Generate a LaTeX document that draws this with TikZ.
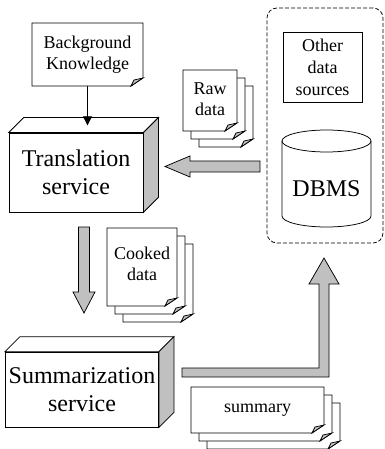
\documentclass[tikz,border=0pt]{standalone}
\usepackage{fontspec}
\setmainfont{Liberation Serif}
\usetikzlibrary{arrows.meta}
\definecolor{silver}{RGB}{192,192,192}

\begin{document}
\begin{tikzpicture}[x=1pt,y=-1pt,line width=0.75pt,
    big/.style={font=\fontsize{24}{28}\selectfont, align=center},
    small/.style={font=\fontsize{18}{21}\selectfont, align=center},
    fatarrow/.style={fill=silver, draw=black}]
    \newcommand{\docpage}[4]{\filldraw[fill=white] (#1,#2) -- (#3,#2) -- (#3,#4-8) -- (#3-12,#4) -- (#1,#4) -- cycle;
    \filldraw[fill=silver] (#3,#4-8) -- (#3-12,#4) -- (#3-9,#4-6) -- cycle;}
    \newcommand{\solidbox}[1]{\filldraw[fill=white] (#1.north west) -- ++(15,-15) -- ([shift={(15,-15)}]#1.north east) -- (#1.north east) -- cycle;
    \filldraw[fill=silver] (#1.north east) -- ++(15,-15) -- ([shift={(15,-15)}]#1.south east) -- (#1.south east) -- cycle;}
\useasboundingbox (0,0) rectangle (384,449);
\docpage{32}{23}{143}{86}
\node[small, minimum width=111pt, minimum height=63pt] (background) at (87.5,54.5) {Background\\Knowledge};
\node[draw, fill=white, big, minimum width=134pt, minimum height=79pt] (translation) at (76,172.5) {Translation\\service};
\solidbox{translation}
\draw[-{Triangle[length=9pt,width=9pt]}] (background.south) -- ++(0,39);
\docpage{199}{86}{253}{147}
\docpage{191}{78}{245}{139}
\docpage{183}{70}{237}{131}
\node[small] (rawdata) at (210,99) {Raw\\data};
\node[draw, dash pattern=on 4pt off 2pt, rounded corners=10pt, minimum width=116pt, minimum height=235pt] (storage) at (325,125.5) {};
\node[draw, small, font=\fontsize{18}{22}\selectfont, minimum width=79pt, minimum height=70pt] (othersources) at (322.5,67) {Other\\data\\sources};
\draw[fill=white] (282,141) -- (282,216) arc[start angle=180, end angle=360, x radius=44.5pt, y radius=11pt] -- (371,141);
\draw (326.5,141) ellipse[x radius=44.5pt, y radius=11pt];
\node[big] (dbms) at (326.5,189) {DBMS};
\filldraw[fatarrow] (260,161) -- (190,161) -- (190,156) -- (165,166.5) -- (190,177) -- (190,172) -- (260,172) -- cycle;
\filldraw[fatarrow] (78.5,227) -- (89.5,227) -- (89.5,292) -- (95,292) -- (84,313) -- (73,292) -- (78.5,292) -- cycle;
\docpage{123}{244}{193}{322}
\docpage{115}{236}{185}{314}
\docpage{107}{228}{177}{306}
\node[small] (cookeddata) at (142,264) {Cooked\\data};
\node[draw, fill=white, big, minimum width=146pt, minimum height=75pt] (summarization) at (82,389.5) {Summarization\\service};
\solidbox{summarization}
\filldraw[fatarrow] (182,368) -- (319,368) -- (319,284) -- (309,284) -- (324,258) -- (339,284) -- (329,284) -- (329,377) -- (182,377) -- cycle;
\docpage{207}{403}{340}{449}
\docpage{199}{395}{332}{441}
\docpage{191}{387}{324}{433}
\node[small] (summary) at (257.5,410) {summary};
\end{tikzpicture}
\end{document}
